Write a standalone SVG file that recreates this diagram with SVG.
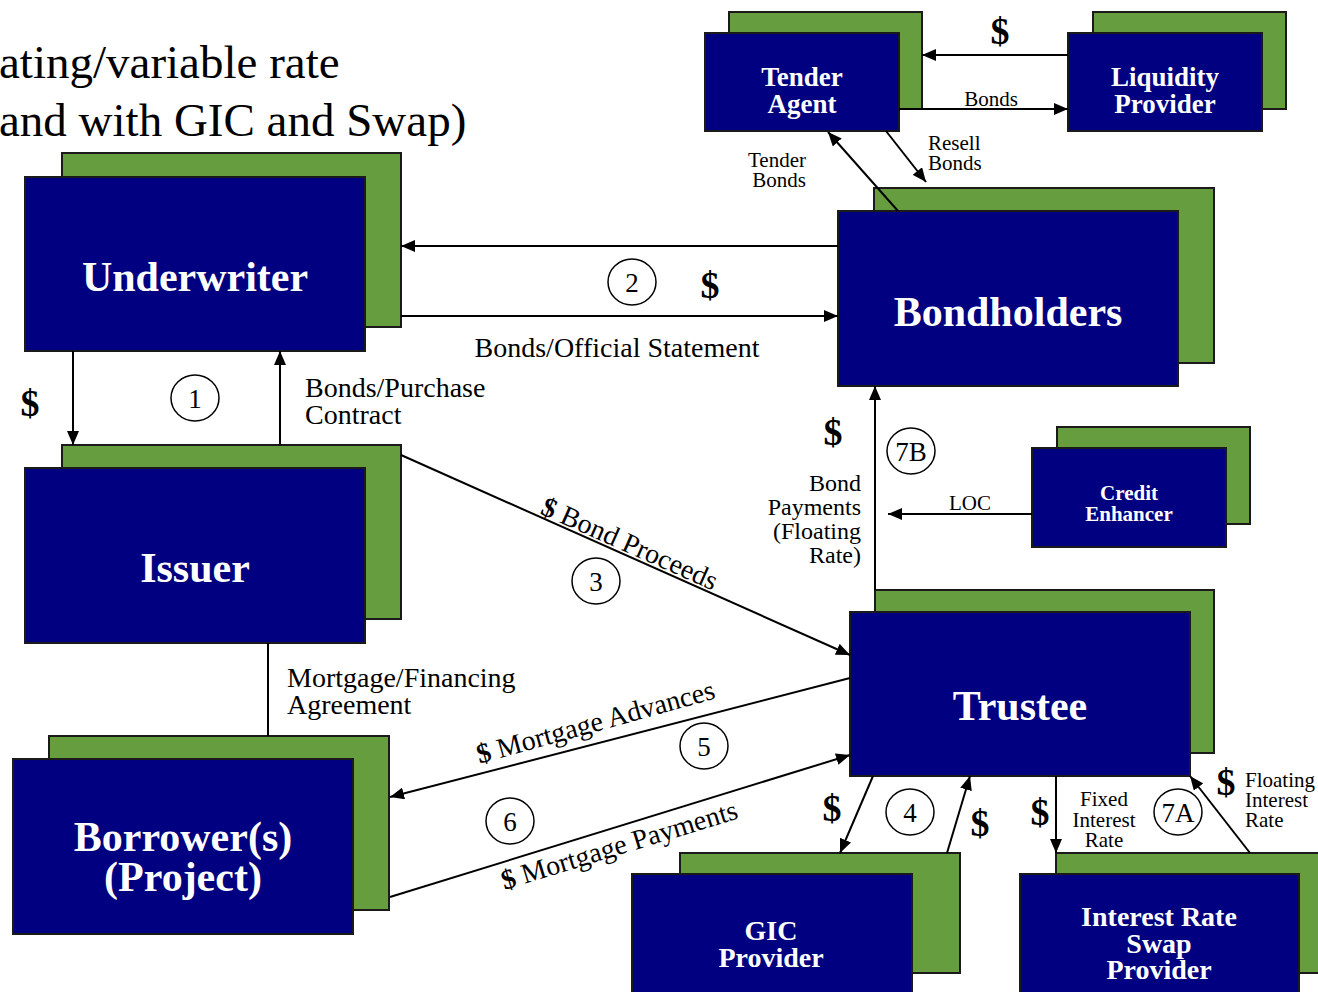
<svg xmlns="http://www.w3.org/2000/svg" width="1318" height="992" viewBox="0 0 1318 992">
<defs>
<marker id="ah" viewBox="0 0 14 12" refX="14" refY="6" markerWidth="14" markerHeight="12" markerUnits="userSpaceOnUse" orient="auto">
<path d="M0,0 L14,6 L0,12 z" fill="#000"/>
</marker>
</defs>
<style>
.g{fill:#669D3F;stroke:#1a1a1a;stroke-width:2}
.b{fill:#000080;stroke:#1a1a1a;stroke-width:2}
.nt{font-family:"Liberation Serif","Times New Roman",serif;font-weight:bold;fill:#fff;text-anchor:middle}
.big{font-size:42px}
.mid{font-size:28px}
.sm{font-size:21px}
.lbl{font-family:"Liberation Serif","Times New Roman",serif;fill:#000;font-size:28px}
.s21{font-size:21px}
.s24{font-size:24px}
.dol{font-family:"Liberation Serif","Times New Roman",serif;font-weight:bold;font-size:38px;fill:#000;text-anchor:middle}
.cl{fill:#fff;stroke:#000;stroke-width:1.5}
.cn{font-family:"Liberation Serif","Times New Roman",serif;font-size:27px;fill:#000;text-anchor:middle}
.ln{stroke:#000;stroke-width:2;fill:none}
.ar{marker-end:url(#ah)}
</style>
<rect width="1318" height="992" fill="#fff"/>
<g id="title">
<text class="lbl" style="font-size:47px"><tspan x="-1" y="78">ating/variable rate</tspan><tspan x="-1" y="136">and with GIC and Swap)</tspan></text>
</g>
<g id="underwriter">
<rect class="g" x="62" y="153" width="339" height="174"/>
<rect class="b" x="25" y="177" width="340" height="174"/>
<text class="nt big" x="195" y="291">Underwriter</text>
</g>
<g id="issuer">
<rect class="g" x="62" y="445" width="339" height="174"/>
<rect class="b" x="25" y="468" width="340" height="175"/>
<text class="nt big" x="195" y="582">Issuer</text>
</g>
<g id="borrower">
<rect class="g" x="49" y="736" width="340" height="174"/>
<rect class="b" x="13" y="759" width="340" height="175"/>
<text class="nt big"><tspan x="183" y="851">Borrower(s)</tspan><tspan x="183" y="891">(Project)</tspan></text>
</g>
<g id="bondholders">
<rect class="g" x="874" y="188" width="340" height="175"/>
<rect class="b" x="838" y="211" width="340" height="175"/>
<text class="nt big" x="1008" y="326">Bondholders</text>
</g>
<g id="tender-agent">
<rect class="g" x="729" y="12" width="193" height="97"/>
<rect class="b" x="705" y="33" width="194" height="98"/>
<text class="nt mid" style="font-size:27px"><tspan x="802" y="86">Tender</tspan><tspan x="802" y="113">Agent</tspan></text>
</g>
<g id="liquidity-provider">
<rect class="g" x="1093" y="12" width="193" height="97"/>
<rect class="b" x="1068" y="33" width="194" height="98"/>
<text class="nt mid" style="font-size:27px"><tspan x="1165" y="86">Liquidity</tspan><tspan x="1165" y="113">Provider</tspan></text>
</g>
<g id="credit-enhancer">
<rect class="g" x="1057" y="427" width="193" height="97"/>
<rect class="b" x="1032" y="448" width="194" height="99"/>
<text class="nt sm"><tspan x="1129" y="500">Credit</tspan><tspan x="1129" y="521">Enhancer</tspan></text>
</g>
<g id="trustee">
<rect class="g" x="875" y="590" width="339" height="163"/>
<rect class="b" x="850" y="612" width="340" height="164"/>
<text class="nt big" x="1020" y="720">Trustee</text>
</g>
<g id="gic-provider">
<rect class="g" x="680" y="853" width="280" height="120"/>
<rect class="b" x="632" y="874" width="280" height="125"/>
<text class="nt mid"><tspan x="771" y="940">GIC</tspan><tspan x="771" y="967">Provider</tspan></text>
</g>
<g id="swap-provider">
<rect class="g" x="1056" y="853" width="270" height="120"/>
<rect class="b" x="1020" y="874" width="279" height="125"/>
<text class="nt mid"><tspan x="1159" y="926">Interest Rate</tspan><tspan x="1159" y="953">Swap</tspan><tspan x="1159" y="979">Provider</tspan></text>
</g>
<g id="connectors">
<line class="ln ar" x1="1068" y1="55" x2="922" y2="55"/>
<line class="ln ar" x1="899" y1="109" x2="1068" y2="109"/>
<line class="ln ar" x1="886" y1="131" x2="926" y2="182"/>
<line class="ln ar" x1="898" y1="211" x2="828" y2="132"/>
<line class="ln ar" x1="838" y1="246" x2="401" y2="246"/>
<line class="ln ar" x1="401" y1="316" x2="838" y2="316"/>
<line class="ln ar" x1="73" y1="351" x2="73" y2="445"/>
<line class="ln ar" x1="280" y1="445" x2="280" y2="351"/>
<line class="ln ar" x1="401" y1="455" x2="850" y2="655"/>
<line class="ln" x1="268" y1="643" x2="268" y2="736"/>
<line class="ln ar" x1="850" y1="678" x2="390" y2="797"/>
<line class="ln ar" x1="390" y1="897" x2="850" y2="755"/>
<line class="ln ar" x1="875" y1="590" x2="875" y2="386"/>
<line class="ln ar" x1="1032" y1="514" x2="888" y2="514"/>
<line class="ln ar" x1="873" y1="776" x2="840" y2="853"/>
<line class="ln ar" x1="947" y1="853" x2="970" y2="776"/>
<line class="ln ar" x1="1056" y1="776" x2="1056" y2="853"/>
<line class="ln ar" x1="1250" y1="853" x2="1190" y2="776"/>
</g>
<g id="labels">
<text class="dol" x="1000" y="44">$</text>
<text class="lbl s21" x="991" y="106" text-anchor="middle">Bonds</text>
<text class="lbl s21"><tspan x="928" y="150">Resell</tspan><tspan x="928" y="170">Bonds</tspan></text>
<text class="lbl s21" text-anchor="end"><tspan x="806" y="167">Tender</tspan><tspan x="806" y="187">Bonds</tspan></text>
<ellipse class="cl" cx="632" cy="282" rx="24" ry="23"/>
<text class="cn" x="632" y="292">2</text>
<text class="dol" x="710" y="298">$</text>
<text class="lbl" x="617" y="357" text-anchor="middle">Bonds/Official Statement</text>
<text class="dol" x="30" y="416">$</text>
<ellipse class="cl" cx="195" cy="398" rx="24" ry="23"/>
<text class="cn" x="195" y="408">1</text>
<text class="lbl"><tspan x="305" y="397">Bonds/Purchase</tspan><tspan x="305" y="424">Contract</tspan></text>
<text class="lbl" x="626" y="552" text-anchor="middle" transform="rotate(24 626 552)"><tspan font-weight="bold">$</tspan> Bond Proceeds</text>
<ellipse class="cl" cx="596" cy="581" rx="24" ry="23"/>
<text class="cn" x="596" y="591">3</text>
<text class="lbl"><tspan x="287" y="687">Mortgage/Financing</tspan><tspan x="287" y="714">Agreement</tspan></text>
<text class="lbl" x="598" y="731" text-anchor="middle" transform="rotate(-15.5 598 731)"><tspan font-weight="bold">$</tspan> Mortgage Advances</text>
<ellipse class="cl" cx="704" cy="746" rx="24" ry="23"/>
<text class="cn" x="704" y="756">5</text>
<ellipse class="cl" cx="510" cy="821" rx="24" ry="23"/>
<text class="cn" x="510" y="831">6</text>
<text class="lbl" x="622" y="854" text-anchor="middle" transform="rotate(-17 622 854)"><tspan font-weight="bold">$</tspan> Mortgage Payments</text>
<text class="dol" x="833" y="445">$</text>
<ellipse class="cl" cx="911" cy="451" rx="24" ry="23"/>
<text class="cn" x="911" y="461">7B</text>
<text class="lbl s24" text-anchor="end"><tspan x="861" y="491">Bond</tspan><tspan x="861" y="515">Payments</tspan><tspan x="861" y="539">(Floating</tspan><tspan x="861" y="563">Rate)</tspan></text>
<text class="lbl s21" x="970" y="510" text-anchor="middle">LOC</text>
<text class="dol" x="832" y="821">$</text>
<ellipse class="cl" cx="910" cy="812" rx="24" ry="23"/>
<text class="cn" x="910" y="822">4</text>
<text class="dol" x="980" y="836">$</text>
<text class="dol" x="1040" y="825">$</text>
<text class="lbl s21" text-anchor="middle"><tspan x="1104" y="806">Fixed</tspan><tspan x="1104" y="827">Interest</tspan><tspan x="1104" y="847">Rate</tspan></text>
<ellipse class="cl" cx="1178" cy="812" rx="24" ry="23"/>
<text class="cn" x="1178" y="822">7A</text>
<text class="dol" x="1226" y="795">$</text>
<text class="lbl s21"><tspan x="1245" y="787">Floating</tspan><tspan x="1245" y="807">Interest</tspan><tspan x="1245" y="827">Rate</tspan></text>
</g>
</svg>
